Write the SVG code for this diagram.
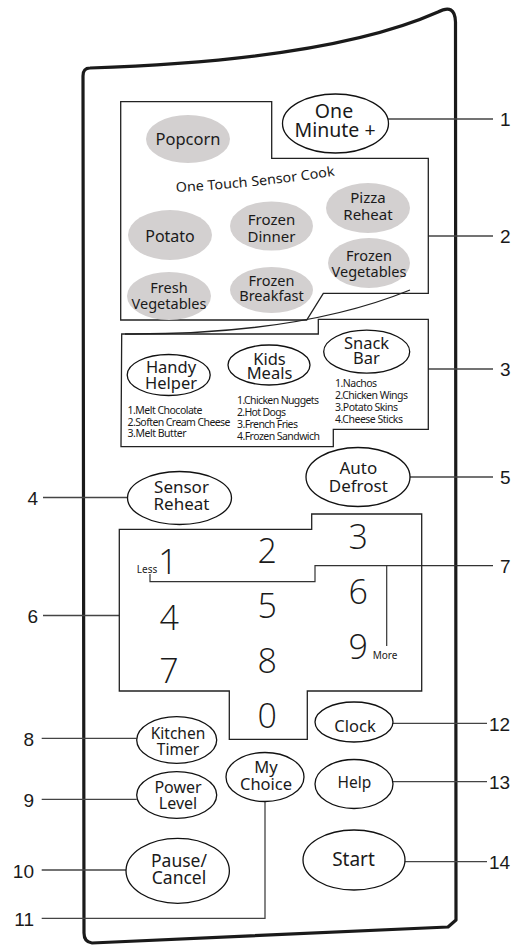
<svg xmlns="http://www.w3.org/2000/svg" width="529" height="945" viewBox="0 0 529 945">
<style>
.panel{fill:#fff;stroke:#1a1a1a;stroke-width:3.2;stroke-linejoin:round}
.box{fill:none;stroke:#222;stroke-width:1.3}
.btn{fill:#fff;stroke:#111;stroke-width:1.3}
.gray{fill:#d3d0d0;stroke:none}
.t{font-family:"Noto Sans","Open Sans",sans-serif;fill:#1a1a1a;text-anchor:middle}
.lst{font-family:"Noto Sans","Open Sans",sans-serif;fill:#1a1a1a;font-size:10.5px}
.dig{font-family:"Open Sans","Noto Sans",sans-serif;font-weight:300;fill:#1a1a1a;font-size:34px;text-anchor:middle}
.lbl{font-family:"Liberation Sans",Arial,sans-serif;fill:#1a1a1a;font-size:19px}
.lead{fill:none;stroke:#444;stroke-width:1.3}
.inner{fill:none;stroke:#333;stroke-width:1.2}
</style>
<rect width="529" height="945" fill="#fff"/>
<path id="panel" class="panel" d="M90,68 Q330,60 438,12 Q455,3 455.5,22 L456,920 L448,927 L92,943 Q84,942 84,933 L83,76 Q83,68 90,68 Z"/>

<g id="connectors">
<path class="lead" d="M388,119 H493"/>
<path class="lead" d="M428,236 H493"/>
<path class="lead" d="M428,369 H493"/>
<path class="lead" d="M43,497.5 H127"/>
<path class="lead" d="M410,477 H493"/>
<path class="lead" d="M43,615.5 H119"/>
<path class="inner" d="M493,565.7 H315 V581.7 H150 V574"/>
<path class="inner" d="M386.7,565.7 V646"/>
<path class="lead" d="M41.7,738.3 H136.7"/>
<path class="lead" d="M41.7,799.3 H136.7"/>
<path class="lead" d="M41.7,870 H126"/>
<path class="lead" d="M265,801.7 V918.3 H41.7"/>
<path class="lead" d="M393,723.3 H487"/>
<path class="lead" d="M393,781.7 H487"/>
<path class="lead" d="M405,861.7 H487"/>
</g>

<g id="labels">
<text class="lbl" x="500" y="126">1</text>
<text class="lbl" x="500" y="243">2</text>
<text class="lbl" x="500" y="376">3</text>
<text class="lbl" x="38" y="505" text-anchor="end">4</text>
<text class="lbl" x="500" y="484">5</text>
<text class="lbl" x="38" y="622.5" text-anchor="end">6</text>
<text class="lbl" x="500" y="573">7</text>
<text class="lbl" x="34" y="745.5" text-anchor="end">8</text>
<text class="lbl" x="34" y="806.5" text-anchor="end">9</text>
<text class="lbl" x="34" y="877.5" text-anchor="end">10</text>
<text class="lbl" x="34" y="925.5" text-anchor="end">11</text>
<text class="lbl" x="489" y="730.5">12</text>
<text class="lbl" x="489" y="789">13</text>
<text class="lbl" x="489" y="869">14</text>
</g>

<g id="sensor-cook">
<path class="box" d="M120.7,101.7 H271.7 V158.3 H428.3 V293.3 H323.3 L306.7,320 H120.7 Z"/>
<path class="box" d="M125,334 Q300,335 410,290"/>
<path id="arcpath" d="M176,192 Q256,188 338,175" fill="none"/>
<text class="t" style="font-size:13.5px;text-anchor:start"><textPath href="#arcpath" textLength="160" lengthAdjust="spacingAndGlyphs">One Touch Sensor Cook</textPath></text>
<g id="popcorn"><ellipse class="gray" cx="188" cy="139" rx="42" ry="24"/><text class="t" x="188" y="145" font-size="16.5">Popcorn</text></g>
<g id="potato"><ellipse class="gray" cx="170" cy="235" rx="42" ry="25"/><text class="t" x="170" y="242" font-size="16">Potato</text></g>
<g id="frozen-dinner"><ellipse class="gray" cx="271.5" cy="226" rx="41.5" ry="24.5"/><text class="t" font-size="15"><tspan x="271.5" y="225">Frozen</tspan><tspan x="271.5" y="241.5">Dinner</tspan></text></g>
<g id="pizza-reheat"><ellipse class="gray" cx="368" cy="208" rx="42" ry="25"/><text class="t" font-size="15"><tspan x="368" y="203">Pizza</tspan><tspan x="368" y="219.5">Reheat</tspan></text></g>
<g id="frozen-vegetables"><ellipse class="gray" cx="369" cy="263" rx="41" ry="25"/><text class="t" font-size="14.5"><tspan x="369" y="261">Frozen</tspan><tspan x="369" y="277">Vegetables</tspan></text></g>
<g id="fresh-vegetables"><ellipse class="gray" cx="169" cy="296" rx="42" ry="24"/><text class="t" font-size="14.5"><tspan x="169" y="293">Fresh</tspan><tspan x="169" y="308.5">Vegetables</tspan></text></g>
<g id="frozen-breakfast"><ellipse class="gray" cx="271.5" cy="290" rx="41.5" ry="23"/><text class="t" font-size="14.5"><tspan x="271.5" y="286">Frozen</tspan><tspan x="271.5" y="300.5">Breakfast</tspan></text></g>
</g>

<g id="one-minute">
<ellipse class="btn" cx="335.5" cy="123.5" rx="53" ry="29.5"/>
<text class="t" font-size="19.5"><tspan x="334" y="118">One</tspan><tspan x="335" y="136.5">Minute +</tspan></text>
</g>

<g id="snack-box">
<path class="box" d="M121.7,334 H318.3 V319.3 H428.3 V429.3 H333.3 V446.7 H121 Z"/>
<g id="handy-helper">
<ellipse class="btn" cx="168.7" cy="375" rx="41.5" ry="20.5"/>
<text class="t" font-size="16.5"><tspan x="171" y="373">Handy</tspan><tspan x="171" y="388.5">Helper</tspan></text>
<text class="lst"><tspan x="127.5" y="414" textLength="75">1.Melt Chocolate</tspan><tspan x="127.5" y="425.5" textLength="103">2.Soften Cream Cheese</tspan><tspan x="127.5" y="437" textLength="59">3.Melt Butter</tspan></text>
</g>
<g id="kids-meals">
<ellipse class="btn" cx="269" cy="365" rx="41" ry="20"/>
<text class="t" font-size="16.5"><tspan x="269.5" y="364.5">Kids</tspan><tspan x="269.5" y="379">Meals</tspan></text>
<text class="lst"><tspan x="237" y="404" textLength="82">1.Chicken Nuggets</tspan><tspan x="237" y="416" textLength="49">2.Hot Dogs</tspan><tspan x="237" y="428" textLength="61">3.French Fries</tspan><tspan x="237" y="440" textLength="83">4.Frozen Sandwich</tspan></text>
</g>
<g id="snack-bar">
<ellipse class="btn" cx="366.7" cy="351.7" rx="43" ry="21.5"/>
<text class="t" font-size="16.5"><tspan x="366.5" y="348.5">Snack</tspan><tspan x="366.5" y="363.5">Bar</tspan></text>
<text class="lst"><tspan x="335" y="386.5" textLength="42">1.Nachos</tspan><tspan x="335" y="398.5" textLength="73">2.Chicken Wings</tspan><tspan x="335" y="410.5" textLength="63">3.Potato Skins</tspan><tspan x="335" y="422.5" textLength="68">4.Cheese Sticks</tspan></text>
</g>
</g>

<g id="sensor-reheat">
<ellipse class="btn" cx="179.5" cy="498" rx="52" ry="26.5"/>
<text class="t" font-size="17"><tspan x="181.5" y="493.3">Sensor</tspan><tspan x="181.5" y="510">Reheat</tspan></text>
</g>
<g id="auto-defrost">
<ellipse class="btn" cx="358" cy="477" rx="52" ry="29.5"/>
<text class="t" font-size="17"><tspan x="358.3" y="474">Auto</tspan><tspan x="358.3" y="491.7">Defrost</tspan></text>
</g>

<g id="keypad">
<path class="box" d="M119.3,529.3 H311.7 V514 H421.7 V691 H307.3 V739.3 H229.3 V691 H119.3 Z"/>
<text class="dig" x="168" y="574">1</text>
<text class="t" x="147" y="572.7" font-size="10">Less</text>
<text class="dig" x="267.3" y="563.3">2</text>
<text class="dig" x="358.3" y="549.3">3</text>
<text class="dig" x="169.3" y="630">4</text>
<text class="dig" x="267.3" y="618.3">5</text>
<text class="dig" x="358.3" y="603.5">6</text>
<text class="dig" x="169" y="682.7">7</text>
<text class="dig" x="267.3" y="673.3">8</text>
<text class="dig" x="358.3" y="659.3">9</text>
<text class="t" x="385" y="659.3" font-size="10">More</text>
<text class="dig" x="267.3" y="728.3">0</text>
</g>

<g id="clock"><ellipse class="btn" cx="354" cy="722" rx="39" ry="20"/><text class="t" x="355" y="731.5" font-size="16.5">Clock</text></g>
<g id="kitchen-timer"><ellipse class="btn" cx="176.7" cy="740" rx="40" ry="23.3"/><text class="t" font-size="15.5"><tspan x="178" y="739.3">Kitchen</tspan><tspan x="178" y="755">Timer</tspan></text></g>
<g id="my-choice"><ellipse class="btn" cx="265" cy="777" rx="39" ry="24.5"/><text class="t" font-size="16.5"><tspan x="266" y="772.7">My</tspan><tspan x="266" y="790">Choice</tspan></text></g>
<g id="help"><ellipse class="btn" cx="354" cy="784" rx="39" ry="24.5"/><text class="t" x="354.5" y="788.3" font-size="15.5">Help</text></g>
<g id="power-level"><ellipse class="btn" cx="176.7" cy="795" rx="40" ry="23.3"/><text class="t" font-size="16"><tspan x="178" y="792.7">Power</tspan><tspan x="178" y="809.3">Level</tspan></text></g>
<g id="pause-cancel"><ellipse class="btn" cx="177.7" cy="870.8" rx="51.7" ry="32.5"/><text class="t" font-size="17.5"><tspan x="179" y="866.7">Pause/</tspan><tspan x="179" y="884">Cancel</tspan></text></g>
<g id="start"><ellipse class="btn" cx="354" cy="860" rx="51" ry="30"/><text class="t" x="353.5" y="866" font-size="19">Start</text></g>
</svg>
